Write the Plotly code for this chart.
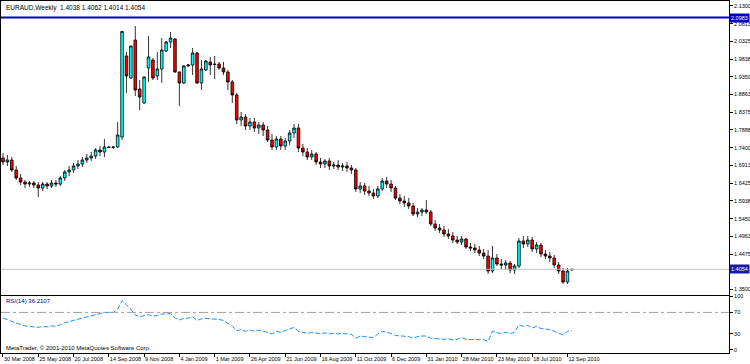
import plotly.graph_objects as go
import pandas as pd

# ---------------- data ----------------
START_WEEK = "2008-03-30"
N_BARS = 130

OPEN = [1.7117, 1.7007, 1.7062, 1.6787, 1.6566, 1.6456, 1.6401, 1.6429, 1.6374, 1.6291,
        1.6401, 1.6346, 1.6429, 1.6401, 1.6566, 1.6732, 1.6787, 1.6897, 1.6952, 1.7062,
        1.7117, 1.7172, 1.7337, 1.7282, 1.7420, 1.7406, 1.7420, 1.7695, 1.9924, 1.9318,
        2.0364, 1.9016, 1.8630, 1.9594, 1.9814, 1.9373, 1.9566, 2.0061, 2.0309, 2.0392,
        1.9484, 1.9181, 1.9649, 1.9676, 2.0006, 1.9181, 1.9539, 1.9759, 1.9704, 1.9704,
        1.9594, 1.9484, 1.9208, 1.8851, 1.8163, 1.8245, 1.7997, 1.8108, 1.7942, 1.8025,
        1.7887, 1.7612, 1.7420, 1.7640, 1.7447, 1.7585, 1.7805, 1.7942, 1.7392, 1.7282,
        1.7144, 1.7227, 1.7007, 1.6952, 1.7034, 1.6897, 1.6924, 1.6869, 1.6897, 1.6842,
        1.6787, 1.6264, 1.6346, 1.6209, 1.6154, 1.6071, 1.6264, 1.6484, 1.6401, 1.6291,
        1.6016, 1.5933, 1.5878, 1.5796, 1.5576, 1.5631, 1.5686, 1.5631, 1.5301, 1.5190,
        1.5135, 1.5025, 1.4970, 1.4860, 1.4805, 1.4888, 1.4668, 1.4640, 1.4585, 1.4502,
        1.4420, 1.4007, 1.4365, 1.4200, 1.4172, 1.4227, 1.4035, 1.4145, 1.4833, 1.4750,
        1.4860, 1.4613, 1.4723, 1.4475, 1.4420, 1.4365, 1.4172, 1.4007, 1.3704, 1.4038]
HIGH = [1.7254, 1.7199, 1.7144, 1.6897, 1.6677, 1.6511, 1.6484, 1.6484, 1.6456, 1.6456,
        1.6456, 1.6511, 1.6511, 1.6621, 1.6787, 1.6897, 1.6979, 1.7062, 1.7144, 1.7227,
        1.7282, 1.7392, 1.7447, 1.7640, 1.7447, 1.7447, 1.8108, 2.0612, 2.0034, 2.0210,
        2.0749, 1.9263, 1.9360, 2.0474, 1.9869, 2.0034, 2.0419, 2.0337, 2.0584, 2.0419,
        1.9490, 1.9676, 1.9704, 2.0144, 2.0034, 1.9814, 1.9814, 1.9896, 1.9924, 1.9759,
        1.9759, 1.9539, 1.9263, 1.8906, 1.8383, 1.8328, 1.8218, 1.8218, 1.8108, 1.8108,
        1.7997, 1.7777, 1.7722, 1.7722, 1.7667, 1.7887, 1.8053, 1.8053, 1.7502, 1.7392,
        1.7337, 1.7282, 1.7117, 1.7089, 1.7117, 1.7007, 1.7062, 1.6979, 1.7007, 1.6924,
        1.6842, 1.6456, 1.6429, 1.6346, 1.6264, 1.6346, 1.6566, 1.6594, 1.6511, 1.6346,
        1.6126, 1.6071, 1.6016, 1.5878, 1.5741, 1.5741, 1.5961, 1.5686, 1.5411, 1.5301,
        1.5245, 1.5163, 1.5080, 1.4970, 1.4970, 1.4915, 1.4778, 1.4750, 1.4695, 1.4613,
        1.4585, 1.4695, 1.4475, 1.4337, 1.4310, 1.4282, 1.4200, 1.4915, 1.4970, 1.4970,
        1.4943, 1.4805, 1.4778, 1.4585, 1.4530, 1.4447, 1.4255, 1.4090, 1.4090, 1.4062]
LOW = [1.6924, 1.6897, 1.6732, 1.6511, 1.6374, 1.6291, 1.6319, 1.6291, 1.6044, 1.6209,
       1.6264, 1.6291, 1.6319, 1.6346, 1.6484, 1.6621, 1.6704, 1.6814, 1.6869, 1.6979,
       1.7034, 1.7089, 1.7172, 1.7144, 1.7392, 1.7365, 1.7392, 1.7612, 1.8906, 1.9290,
       1.8823, 1.8438, 1.8603, 1.9208, 1.9263, 1.9263, 1.9181, 2.0034, 2.0144, 1.9456,
       1.8548, 1.9153, 1.9621, 1.9401, 1.9153, 1.8988, 1.9511, 1.9401, 1.9291, 1.9539,
       1.9401, 1.8988, 1.8630, 1.8053, 1.7997, 1.7887, 1.7887, 1.7832, 1.7777, 1.7722,
       1.7557, 1.7337, 1.7337, 1.7337, 1.7337, 1.7475, 1.7667, 1.7282, 1.7172, 1.7062,
       1.7062, 1.6924, 1.6842, 1.6842, 1.6787, 1.6814, 1.6787, 1.6759, 1.6732, 1.6677,
       1.6181, 1.6154, 1.6099, 1.6071, 1.5989, 1.6016, 1.6209, 1.6291, 1.6181, 1.5961,
       1.5851, 1.5768, 1.5713, 1.5521, 1.5493, 1.5521, 1.5576, 1.5245, 1.5108, 1.5053,
       1.4943, 1.4888, 1.4778, 1.4750, 1.4723, 1.4613, 1.4557, 1.4502, 1.4420, 1.4337,
       1.3925, 1.3952, 1.4145, 1.4062, 1.4035, 1.3952, 1.3925, 1.4090, 1.4640, 1.4668,
       1.4530, 1.4502, 1.4392, 1.4337, 1.4255, 1.4090, 1.3925, 1.3649, 1.3649, 1.4014]
CLOSE = [1.7007, 1.7062, 1.6787, 1.6566, 1.6456, 1.6401, 1.6429, 1.6374, 1.6291, 1.6401,
         1.6346, 1.6429, 1.6401, 1.6566, 1.6732, 1.6787, 1.6897, 1.6952, 1.7062, 1.7117,
         1.7172, 1.7337, 1.7282, 1.7420, 1.7406, 1.7420, 1.7750, 2.0600, 1.9373, 2.0199,
         1.8988, 1.8796, 1.9346, 1.9896, 1.9318, 1.9566, 2.0089, 2.0309, 2.0419, 1.9484,
         1.9181, 1.9649, 1.9676, 2.0006, 1.9181, 1.9566, 1.9786, 1.9676, 1.9690, 1.9594,
         1.9484, 1.9208, 1.8851, 1.8163, 1.8245, 1.7997, 1.8108, 1.7942, 1.8025, 1.7887,
         1.7612, 1.7420, 1.7640, 1.7447, 1.7585, 1.7805, 1.7942, 1.7392, 1.7282, 1.7144,
         1.7227, 1.7007, 1.6952, 1.7034, 1.6897, 1.6924, 1.6869, 1.6897, 1.6842, 1.6787,
         1.6264, 1.6346, 1.6209, 1.6154, 1.6071, 1.6264, 1.6484, 1.6401, 1.6291, 1.6016,
         1.5933, 1.5878, 1.5796, 1.5576, 1.5631, 1.5686, 1.5631, 1.5301, 1.5190, 1.5135,
         1.5025, 1.4970, 1.4860, 1.4805, 1.4888, 1.4668, 1.4640, 1.4585, 1.4502, 1.4420,
         1.4007, 1.4365, 1.4200, 1.4172, 1.4227, 1.4035, 1.4145, 1.4833, 1.4750, 1.4860,
         1.4613, 1.4723, 1.4475, 1.4420, 1.4365, 1.4172, 1.4007, 1.3704, 1.4007, 1.4054]

RSI = [59, 57, 53, 50, 47, 45, 44, 43, 42, 44,
       43, 45, 44, 47, 51, 53, 55, 58, 60, 62,
       64, 66, 68, 70, 70, 70, 76, 92, 84, 76,
       65, 62, 64, 66, 63, 64, 67, 68, 68, 60,
       56, 59, 59, 62, 55, 58, 59, 58, 58, 57,
       55, 50, 44, 36, 38, 35, 37, 35, 37, 35,
       32, 30, 35, 33, 36, 39, 42, 35, 33, 31,
       33, 31, 30, 32, 30, 31, 30, 31, 30, 29,
       22, 26, 25, 24, 23, 30, 35, 33, 31, 27,
       26, 26, 25, 22, 25, 26, 26, 22, 21, 21,
       20, 21, 19, 20, 23, 20, 20, 20, 19, 19,
       16, 35, 32, 31, 33, 30, 33, 47, 44, 46,
       41, 44, 40, 39, 38, 35, 32, 28, 35, 36]

SYMBOL_TITLE = "EURAUD,Weekly  1.4038 1.4062 1.4014 1.4054"
RSI_TITLE = "RSI(14) 36.2107"
COPYRIGHT = "MetaTrader, \u00a9 2001-2010 MetaQuotes Software Corp."
BID_PRICE = 1.4054
HLINE_PRICE = 2.0983

Y_TICKS = [2.1300, 2.0813, 2.0325, 1.9838, 1.9350, 1.8863, 1.8375, 1.7888, 1.7400,
           1.6913, 1.6425, 1.5938, 1.5450, 1.4963, 1.4475, 1.3500]
RSI_TICKS = [0, 30, 70, 100]
RSI_LEVEL = 70
X_TICK_DATES = ["2008-03-30", "2008-05-25", "2008-07-20", "2008-09-14", "2008-11-09",
                "2009-01-04", "2009-03-01", "2009-04-26", "2009-06-21", "2009-08-16",
                "2009-10-11", "2009-12-06", "2010-01-31", "2010-03-28", "2010-05-23",
                "2010-07-18", "2010-09-12"]

DATES = pd.date_range(START_WEEK, periods=N_BARS, freq="7D")

FONT = "Liberation Sans"
fig = go.Figure()
fig.add_trace(go.Candlestick(
    x=DATES, open=OPEN, high=HIGH, low=LOW, close=CLOSE,
    xaxis="x", yaxis="y", whiskerwidth=0, showlegend=False, hoverinfo="skip",
    increasing=dict(line=dict(color="black", width=0.8), fillcolor="#00ffff"),
    decreasing=dict(line=dict(color="black", width=0.8), fillcolor="#ff0000"),
))
fig.add_trace(go.Scatter(
    x=DATES, y=RSI, xaxis="x2", yaxis="y2", mode="lines", showlegend=False,
    line=dict(color="#1e90ff", width=1, dash="5px,2px"), hoverinfo="skip",
))

X_RANGE = ["2008-03-26 20:00", "2011-05-26 10:00"]
axis_common = dict(showgrid=False, zeroline=False, showline=True, linecolor="black",
                   linewidth=1, mirror=True, tickcolor="black",
                   tickfont=dict(family=FONT, size=5.5, color="black"))

fig.update_layout(
    width=750, height=364,
    margin=dict(l=1, r=21, t=1, b=11, autoexpand=False),
    paper_bgcolor="white", plot_bgcolor="white",
    boxgap=0.15,
    xaxis=dict(domain=[0, 1], anchor="y", type="date", range=X_RANGE,
               showticklabels=False, ticks="", rangeslider=dict(visible=False),
               **axis_common),
    xaxis2=dict(domain=[0, 1], anchor="y2", type="date", matches="x",
                tickvals=X_TICK_DATES, tickformat="%-d %b %Y", ticks="outside",
                ticklen=3, tickangle=0, ticklabelposition="outside right", **axis_common),
    yaxis=dict(domain=[0.1648, 1], anchor="x", side="right", range=[1.3347, 2.1437],
               tickvals=Y_TICKS, ticktext=[f"{v:.4f}" for v in Y_TICKS],
               ticks="outside", ticklen=3, **axis_common),
    yaxis2=dict(domain=[0, 0.1619], anchor="x2", side="right", range=[-5.6, 100.56],
                tickvals=RSI_TICKS, ticks="outside", ticklen=3, **axis_common),
    shapes=[
        dict(type="line", xref="paper", x0=0, x1=1, yref="y", y0=HLINE_PRICE, y1=HLINE_PRICE,
             line=dict(color="#0000cc", width=2)),
        dict(type="line", xref="paper", x0=0, x1=1, yref="y", y0=BID_PRICE, y1=BID_PRICE,
             line=dict(color="#c0c0c0", width=1)),
        dict(type="line", xref="paper", x0=0, x1=1, yref="y2", y0=RSI_LEVEL, y1=RSI_LEVEL,
             line=dict(color="#a0a0a0", width=1, dash="dashdot")),
    ],
    annotations=[
        dict(text=SYMBOL_TITLE, xref="paper", yref="paper", x=0.004, y=0.997,
             xanchor="left", yanchor="top", showarrow=False,
             font=dict(family=FONT, size=6.5, color="black")),
        dict(text=RSI_TITLE, xref="paper", yref="paper", x=0.004, y=0.1619,
             xanchor="left", yanchor="top", showarrow=False,
             font=dict(family=FONT, size=6, color="#000080")),
        dict(text=COPYRIGHT, xref="paper", yref="paper", x=0.004, y=0.0,
             xanchor="left", yanchor="bottom", showarrow=False,
             font=dict(family=FONT, size=6, color="black")),
        dict(text=f"{HLINE_PRICE:.4f}", xref="paper", yref="y", x=1.0, y=HLINE_PRICE,
             xanchor="left", yanchor="middle", showarrow=False, bgcolor="#0000cc",
             borderpad=1, font=dict(family=FONT, size=5.5, color="white")),
        dict(text=f"{BID_PRICE:.4f}", xref="paper", yref="y", x=1.0, y=BID_PRICE,
             xanchor="left", yanchor="middle", showarrow=False, bgcolor="#1a1aa0",
             borderpad=1, font=dict(family=FONT, size=5.5, color="white")),
    ],
)

fig.write_html("out.html", config={"displayModeBar": False},
               post_script="document.body.style.margin='0';document.body.style.overflow='hidden';")
